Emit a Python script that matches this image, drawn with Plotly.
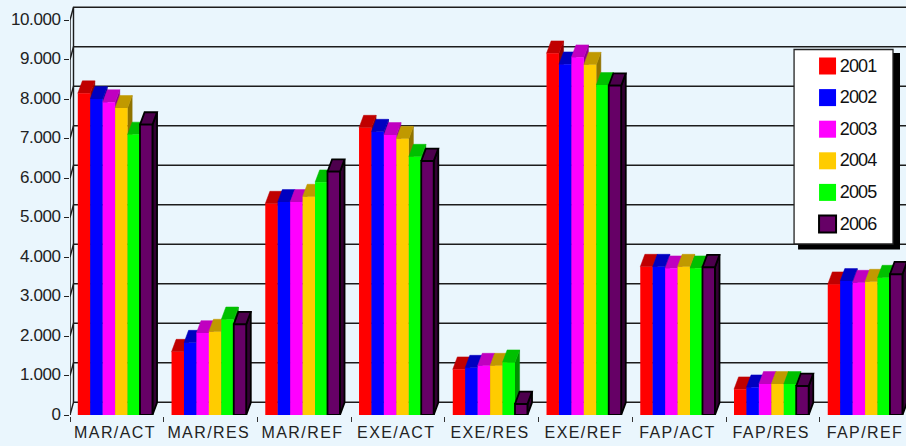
import plotly.graph_objects as go

categories = ["MAR/ACT", "MAR/RES", "MAR/REF", "EXE/ACT", "EXE/RES",
              "EXE/REF", "FAP/ACT", "FAP/RES", "FAP/REF"]
years = ["2001", "2002", "2003", "2004", "2005", "2006"]

v2001 = [8145, 1602, 5349, 7273, 1157, 9157, 3754, 651, 3309]
v2002 = [8000, 1830, 5392, 7172, 1197, 8878, 3754, 701, 3392]
v2003 = [7920, 2075, 5392, 7089, 1248, 9056, 3714, 785, 3349]
v2004 = [7775, 2110, 5527, 6995, 1248, 8868, 3754, 785, 3375]
v2005 = [7100, 2420, 5891, 6539, 1334, 8354, 3714, 785, 3476]
v2006 = [7350, 2295, 6159, 6430, 278, 8337, 3739, 734, 3562]
series = [v2001, v2002, v2003, v2004, v2005, v2006]

front_colors = ["#ff0000", "#0000ff", "#ff00ff", "#ffcc00", "#00ff00", "#660066"]
top_colors = ["#c00000", "#0000c0", "#c000c0", "#c09900", "#00c000", "#4d004d"]
side_colors = ["#900000", "#000090", "#900090", "#907300", "#009000", "#330033"]

y_ticks = list(range(0, 10001, 1000))
y_labels = [f"{v:,}".replace(",", ".") for v in y_ticks]

WIDTH, HEIGHT = 906, 446
PLOT_LEFT = 69.5
ZERO_Y = 415.0
PX_PER_CAT = 93.8
PX_PER_UNIT = 39.5 / 1000
BG = "#eaf6fd"
INK = "#1c1c1c"

x_max = (WIDTH - PLOT_LEFT) / PX_PER_CAT
y_max = ZERO_Y / PX_PER_UNIT

# Oblique projection offsets, expressed in axis units
wall_dx = 3.5 / PX_PER_CAT
wall_dy = 12.8 / PX_PER_UNIT
bar_dx = 4.6 / PX_PER_CAT
bar_dy = 12.4 / PX_PER_UNIT
bar_w = 12.45 / PX_PER_CAT
group_start = 7.8 / PX_PER_CAT

fig = go.Figure()

# Back wall, floor edge and the gridlines that fold from the front axis to the wall
wall_x, wall_y = [0, 0, None, wall_dx, wall_dx, None], [0, y_ticks[-1], None, wall_dy, y_ticks[-1] + wall_dy, None]
for v in y_ticks:
    wall_x += [0, wall_dx, x_max, None]
    wall_y += [v, v + wall_dy, v + wall_dy, None]
fig.add_trace(go.Scatter(x=wall_x, y=wall_y, mode="lines", hoverinfo="skip", showlegend=False,
                         line=dict(color=INK, width=1.4), cliponaxis=False, zorder=0))

# Each series is painted side, top, front so later bars overlap earlier ones
for s, (name, values) in enumerate(zip(years, series)):
    lefts = [i + group_start + s * bar_w for i in range(len(categories))]
    outline = dict(color="#000000", width=1.8) if s == 5 else dict(width=0)

    sx, sy, tx, ty = [], [], [], []
    for left, v in zip(lefts, values):
        right = left + bar_w
        sx += [right, right + bar_dx, right + bar_dx, right, right, None]
        sy += [0, bar_dy, v + bar_dy, v, 0, None]
        tx += [left, left + bar_dx, right + bar_dx, right, left, None]
        ty += [v, v + bar_dy, v + bar_dy, v, v, None]

    for px, py, color, z in ((sx, sy, side_colors[s], 1), (tx, ty, top_colors[s], 2)):
        fig.add_trace(go.Scatter(x=px, y=py, mode="lines", fill="toself", fillcolor=color,
                                 line=outline if s == 5 else dict(color=color, width=0.5),
                                 hoverinfo="skip", showlegend=False, zorder=s * 3 + z))

    fig.add_trace(go.Bar(x=[l + bar_w / 2 for l in lefts], y=values, width=bar_w, name=name,
                         marker=dict(color=front_colors[s], line=outline),
                         showlegend=False, zorder=s * 3 + 3))


def px_x(p):
    return (p - PLOT_LEFT) / (WIDTH - PLOT_LEFT)


def px_y(p):
    return 1 - p / ZERO_Y


# Legend panel with its drop shadow
shapes = [
    dict(type="rect", xref="paper", yref="paper", x0=px_x(798), x1=px_x(900), y0=px_y(249.5), y1=px_y(53),
         fillcolor="#000000", line=dict(width=0)),
    dict(type="rect", xref="paper", yref="paper", x0=px_x(794), x1=px_x(893), y0=px_y(244), y1=px_y(49.5),
         fillcolor="#ffffff", line=dict(color="#222222", width=1.3)),
]
annotations = []
for s, name in enumerate(years):
    cy = 66 + s * 31.6
    outline = dict(color="#000000", width=2) if s == 5 else dict(width=0)
    shapes.append(dict(type="rect", xref="paper", yref="paper", x0=px_x(819), x1=px_x(836),
                       y0=px_y(cy + 8.5), y1=px_y(cy - 8.5), fillcolor=front_colors[s], line=outline))
    annotations.append(dict(xref="paper", yref="paper", x=px_x(835.5), y=px_y(cy - 0.5), text=name, showarrow=False,
                            xanchor="left", yanchor="middle",
                            font=dict(family="Liberation Sans", size=18, color="#111111")))

fig.update_layout(
    width=WIDTH, height=HEIGHT, autosize=False,
    margin=dict(l=PLOT_LEFT, r=0, t=0, b=HEIGHT - ZERO_Y, pad=0),
    paper_bgcolor=BG, plot_bgcolor=BG,
    barmode="overlay", showlegend=False,
    font=dict(family="Liberation Sans", color="#222222"),
    shapes=shapes, annotations=annotations,
    xaxis=dict(range=[0, x_max], showgrid=False, zeroline=False, showline=True,
               linecolor="#333333", linewidth=1.5,
               tickmode="array", tickvals=[i + 0.48 for i in range(len(categories))], ticktext=categories,
               ticks="", tickfont=dict(size=16), ticklabelstandoff=2, tickangle=0,
               minor=dict(tickmode="array", tickvals=list(range(len(categories))),
                          ticks="outside", ticklen=5, tickcolor="#333333", tickwidth=1.2, showgrid=False)),
    yaxis=dict(range=[0, y_max], showgrid=False, zeroline=False, showline=False,
               tickmode="array", tickvals=y_ticks, ticktext=y_labels,
               ticks="outside", ticklen=5, tickcolor="#222222", tickwidth=1.3,
               tickfont=dict(size=17)),
)

# Text tracking: wide on category labels, tight on the value and legend labels
tracking_js = """
document.querySelectorAll('.xtick text').forEach(t => { t.style.letterSpacing = '1.4px'; });
document.querySelectorAll('.ytick text').forEach(t => { t.style.letterSpacing = '-0.4px'; t.setAttribute('dy', '-1'); });
document.querySelectorAll('.annotation-text').forEach(t => { t.style.letterSpacing = '-0.9px'; });
"""
fig.write_html("out.html", post_script=tracking_js, config=dict(displayModeBar=False))
